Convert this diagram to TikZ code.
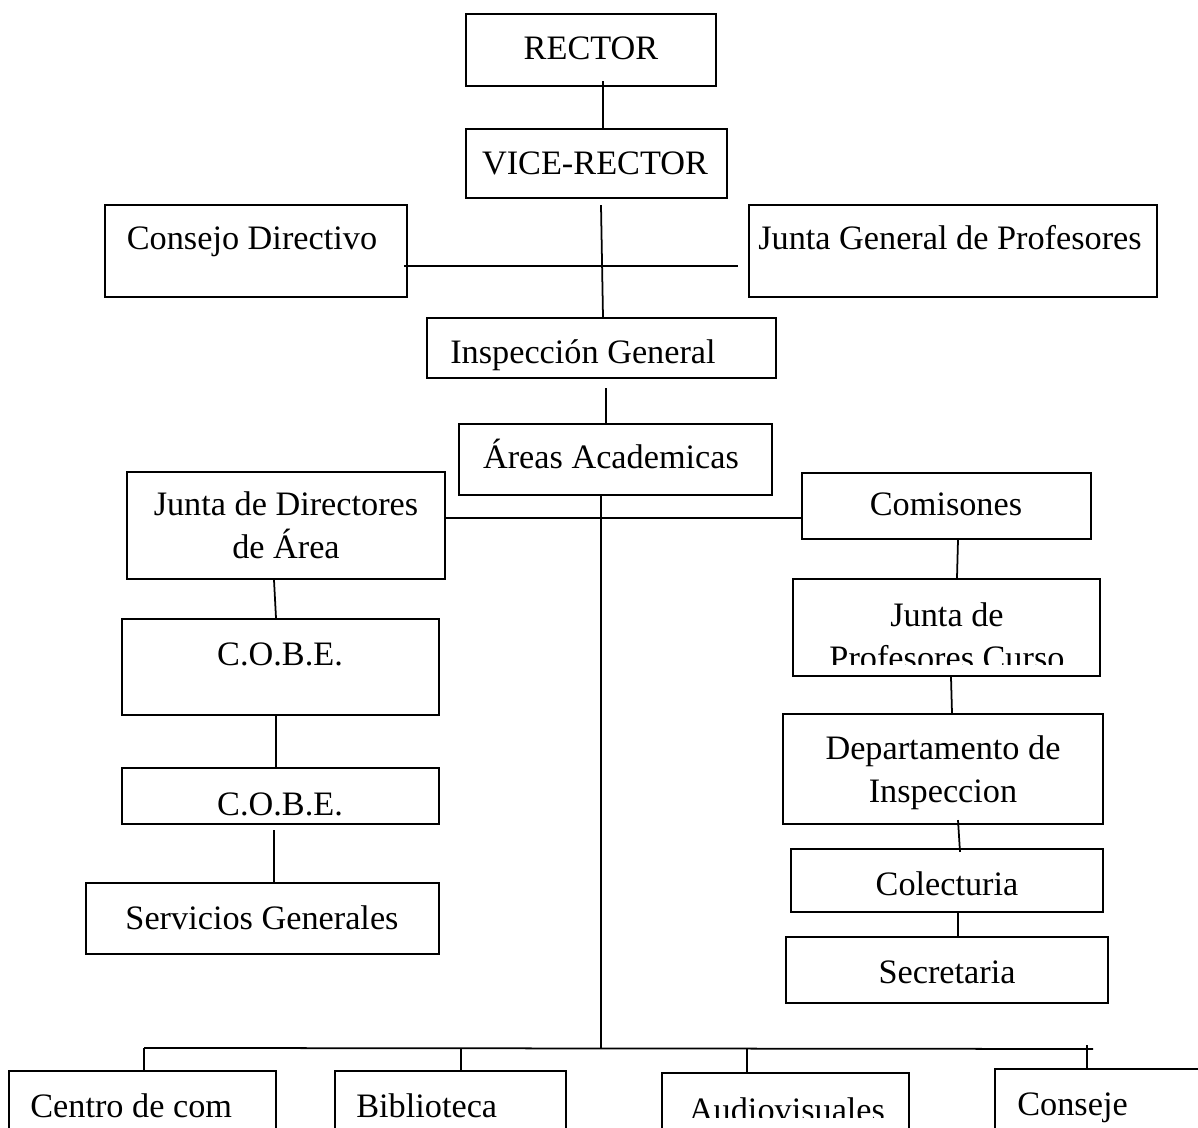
\documentclass[tikz,border=0pt]{standalone}
\usepackage{fontspec}
\setmainfont{Liberation Serif}
\usetikzlibrary{calc,fit}
\tikzset{
  box/.style={draw, line width=1.2pt, inner sep=0pt},
  lbl/.style={anchor=base, inner sep=0pt, align=center, font=\fontsize{19.5}{24.5}\selectfont},
  link/.style={line width=1pt}
}
\begin{document}
\begin{tikzpicture}[x=0.02cm, y=-0.02cm]
\useasboundingbox (0,0) rectangle (1198,1128);
\clip (0,0) rectangle (1198,1128);
% centre column
\node[box, fit={(466,14) (716,86)}] (rector) {};
\node[lbl] (rector-t) at (591,60) {RECTOR};
\node[box, fit={(466,129) (727,198)}] (vice) {};
\node[lbl] (vice-t) at (595,175) {VICE-RECTOR};
\node[box, fit={(105,205) (407,297)}] (consejo) {};
\node[lbl] (consejo-t) at (252,250) {Consejo Directivo};
\node[box, fit={(749,205) (1157,297)}] (jgp) {};
\node[lbl] (jgp-t) at (950,250) {Junta General de Profesores};
\node[box, fit={(427,318) (776,378)}] (insp) {};
\node[lbl] (insp-t) at (583,364) {Inspección General};
\node[box, fit={(459,424) (772,495)}] (areas) {};
\node[lbl] (areas-t) at (611,469) {Áreas Academicas};
% left column
\node[box, fit={(127,472) (445,579)}] (jdir) {};
\node[lbl] (jdir-t) at (286,559) {Junta de Directores\\de Área};
\node[box, fit={(122,619) (439,715)}] (cobe1) {};
\node[lbl] (cobe1-t) at (280,666) {C.O.B.E.};
\node[box, fit={(122,768) (439,824)}] (cobe2) {};
\node[lbl] (cobe2-t) at (280,815) {C.O.B.E.};
\node[box, fit={(86,883) (439,954)}] (serv) {};
\node[lbl] (serv-t) at (262,929) {Servicios Generales};
% right column
\node[box, fit={(802,473) (1091,539)}] (comis) {};
\node[lbl] (comis-t) at (946,516) {Comisones};
\node[box, fit={(793,579) (1100,676)}] (jpc) {};
\begin{scope}
\clip (794,580) rectangle (1099,665);
\node[lbl] (jpc-t) at (947,670) {Junta de\\Profesores Curso};
\end{scope}
\node[box, fit={(783,714) (1103,824)}] (dept) {};
\node[lbl] (dept-t) at (943,803) {Departamento de\\Inspeccion};
\node[box, fit={(791,849) (1103,912)}] (colect) {};
\node[lbl] (colect-t) at (947,895) {Colecturia};
\node[box, fit={(786,937) (1108,1003)}] (secret) {};
\node[lbl] (secret-t) at (947,983) {Secretaria};
% bottom row
\node[box, fit={(9,1071) (276,1150)}] (centro) {};
\node[lbl, anchor=base west] (centro-t) at (30,1117) {Centro de com};
\node[box, fit={(335,1071) (566,1150)}] (biblio) {};
\node[lbl, anchor=base west] (biblio-t) at (356,1117) {Biblioteca};
\node[box, fit={(662,1073) (909,1150)}] (audio) {};
\begin{scope}
\clip (663,1074) rectangle (908,1117);
\node[lbl] (audio-t) at (787,1121) {Audiovisuales};
\end{scope}
\node[box, fit={(995,1069) (1250,1150)}] (conseje) {};
\node[lbl, anchor=base west] (conseje-t) at (1017,1115) {Conseje};
% connectors
\coordinate (cross) at (602,266);
\coordinate (lvl) at (601,518);
\coordinate (hub) at (601,1049);
\coordinate (bar-r) at (1093,1049);
\draw[link] ($(rector.south)+(12,-6)$) -- ($(vice.north)+(6.5,0)$);
\draw[link] ($(vice.south)+(4.5,6)$) -- ($(insp.north)+(1.5,0)$);
\draw[link] ($(consejo.east |- cross)+(-4,0)$) -- ($(jgp.west |- cross)+(-10,0)$);
\draw[link] ($(insp.south)+(4.5,9)$) -- ($(areas.north)+(-9.5,0)$);
\draw[link] ($(areas.south)+(-14.5,0)$) -- (hub);
\draw[link] (jdir.east |- lvl) -- (comis.west |- lvl);
\draw[link] ($(comis.south)+(11.5,0)$) -- ($(jpc.north)+(10.5,0)$);
\draw[link] ($(jpc.south)+(4.5,0)$) -- ($(dept.north)+(9,0)$);
\draw[link] ($(dept.south)+(15,-5)$) -- ($(colect.north)+(13,4)$);
\draw[link] ($(colect.south)+(11,0)$) -- ($(secret.north)+(11,0)$);
\draw[link] ($(jdir.south)+(-12,0)$) -- ($(cobe1.north)+(-4.5,0)$);
\draw[link] ($(cobe1.south)+(-4.5,0)$) -- ($(cobe2.north)+(-4.5,0)$);
\draw[link] ($(cobe2.south)+(-6.5,5)$) -- ($(serv.north)+(11.5,0)$);
\draw[link] ($(centro.north)+(1.5,-22)$) -- (bar-r);
\foreach \n/\dx/\h in {centro/1.5/22, biblio/10.5/22, audio/-38.5/24, conseje/-35.5/23}
  \draw[link] ($(\n.north)+(\dx,0)$) -- +(0,-\h);
\end{tikzpicture}
\end{document}
